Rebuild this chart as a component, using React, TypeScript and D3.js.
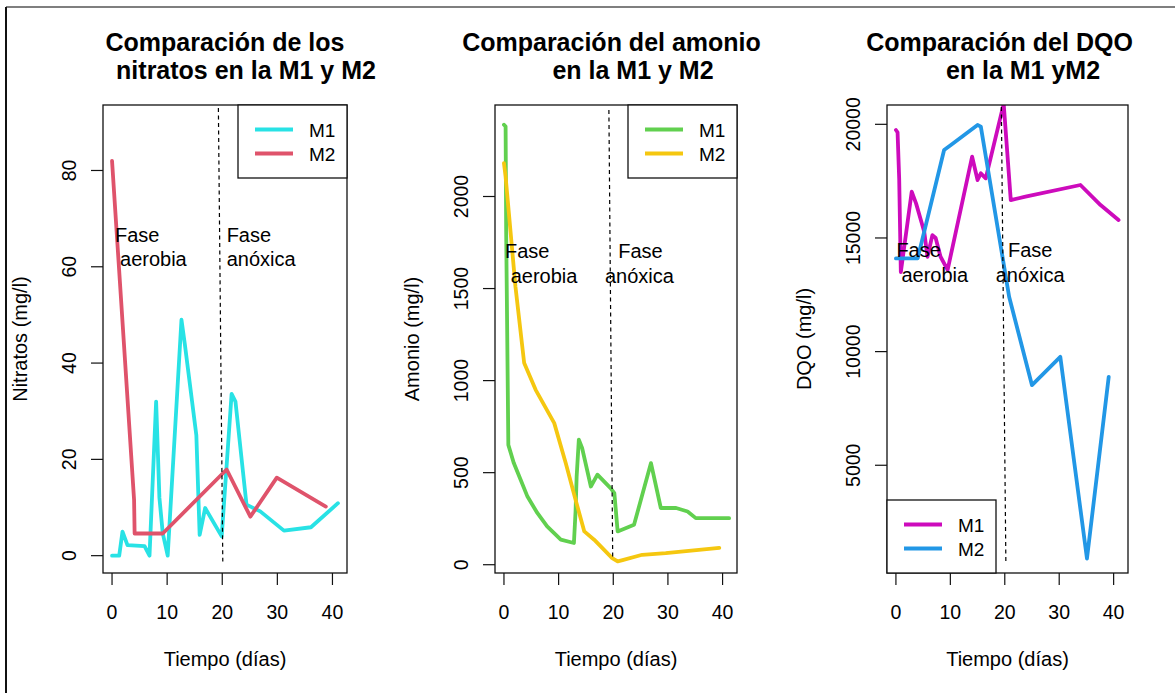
import React from 'react';
import * as d3 from 'd3';

// ---- data (días, mg/l) ----
const dayTicks = [0, 10, 20, 30, 40];

const nitM1Days = [0, 1.3, 1.9, 2.8, 5.9, 6.8, 8.0, 8.6, 9.2, 10.1, 12.6, 13.2, 15.3, 15.9, 16.9, 19.9, 21.7, 22.4, 24.4, 26.9, 31.2, 36.1, 41];
const nitM1 = [0, 0, 5, 2.2, 2, 0, 32, 12, 4.7, 0, 49, 44, 25, 4.3, 9.9, 4, 33.6, 32, 10.6, 9.2, 5.2, 5.9, 10.9];
const nitM2Days = [0, 4, 4.1, 9.2, 20.8, 25.1, 29.9, 38.8];
const nitM2 = [82, 11.6, 4.6, 4.6, 17.9, 8.1, 16.2, 10.2];
const nitTicks = [0, 20, 40, 60, 80];

const amoM1Days = [0, 0.3, 0.4, 0.6, 0.8, 1.8, 3.05, 4.3, 6.1, 7.9, 10.4, 12.8, 13.1, 13.3, 13.7, 14.3, 15.9, 17.1, 19.5, 20.2, 20.8, 23.8, 26.9, 28.7, 31.5, 33.6, 35.1, 41.2];
const amoM1 = [2390, 2380, 1820, 1240, 651, 552, 461, 370, 281, 208, 136, 118, 290, 480, 679, 634, 425, 489, 416, 389, 181, 217, 552, 308, 308, 289, 253, 253];
const amoM2Days = [0, 0.3, 0.9, 2.1, 3.7, 5.8, 9.2, 11.3, 13.1, 14.7, 16.5, 19.8, 20.8, 21.7, 25.3, 29.6, 39.4];
const amoM2 = [2181, 2108, 1909, 1511, 1095, 950, 769, 552, 353, 181, 136, 36, 18, 25, 54, 63, 91];
const amoTicks = [0, 500, 1000, 1500, 2000];

const dqoM1Days = [0, 0.3, 0.6, 0.9, 2.9, 3.7, 5.2, 5.8, 6.7, 7.3, 8.2, 9.5, 14.0, 15.0, 15.6, 16.5, 19.8, 21.1, 23.8, 33.9, 37.6, 40.9];
const dqoM1 = [19750, 19650, 17600, 13500, 17035, 16523, 15274, 14173, 15128, 15000, 14173, 13600, 18575, 17549, 17844, 17624, 20900, 16669, 16815, 17330, 16449, 15788];
const dqoM2Days = [0, 4.0, 8.85, 10.1, 15.0, 15.6, 20.8, 25.0, 30.2, 35.1, 39.1];
const dqoM2 = [14100, 14100, 18870, 19090, 19971, 19900, 12412, 8524, 9770, 894, 8890];
const dqoTicks = [5000, 10000, 15000, 20000];

const FONT = '"Liberation Sans", Arial, Helvetica, sans-serif';
const TOP = 105;
const BOTTOM = 573;

interface Series {
  days: number[];
  values: number[];
  color: string;
  label: string;
}

interface Note {
  text: string;
  x: number;
  y: number;
}

interface PanelProps {
  id: string;
  left: number;
  right: number;
  yDomain: [number, number];
  yTicks: number[];
  yLabel: string;
  title: [string, string];
  titleShift: [number, number];
  series: Series[];
  legendPos: 'topright' | 'bottomleft';
  divider: [number, number, number, number];
  notes: Note[];
}

const Panel: React.FC<PanelProps> = ({
  id, left, right, yDomain, yTicks, yLabel, title, titleShift, series, legendPos, divider, notes
}) => {
  const x = d3.scaleLinear().domain([-1.64, 42.64]).range([left, right]);
  const y = d3.scaleLinear().domain(yDomain).range([BOTTOM, TOP]);
  const cx = (left + right) / 2;
  const cy = (TOP + BOTTOM) / 2;

  const line = (s: Series) =>
    d3.line<number>()
      .x((_, i) => x(s.days[i]))
      .y(v => y(v))(s.values) || '';

  // legend box, like R's legend()
  const lw = 109;
  const lh = 73;
  const lx = legendPos === 'topright' ? right - lw : left;
  const ly = legendPos === 'topright' ? TOP : BOTTOM - lh;

  return (
    <g>
      <defs>
        <clipPath id={`clip-${id}`}>
          <rect x={left} y={TOP} width={right - left} height={BOTTOM - TOP} />
        </clipPath>
      </defs>

      {/* title */}
      <text x={cx + titleShift[0]} y={51} textAnchor="middle" fontSize={25} fontWeight="bold" fill="#000">
        {title[0]}
      </text>
      <text x={cx + titleShift[1]} y={79} textAnchor="middle" fontSize={25} fontWeight="bold" fill="#000">
        {title[1]}
      </text>

      {/* series */}
      <g clipPath={`url(#clip-${id})`}>
        {series.map(s => (
          <path key={s.label} d={line(s)} fill="none" stroke={s.color} strokeWidth={3.8}
            strokeLinejoin="round" strokeLinecap="round" />
        ))}
      </g>

      {/* phase divider */}
      <line x1={x(divider[0])} y1={y(divider[1])} x2={x(divider[2])} y2={y(divider[3])}
        stroke="#000" strokeWidth={1.2} strokeDasharray="4,3.5" />

      {notes.map((n, i) => (
        <text key={i} x={x(n.x)} y={y(n.y)} fontSize={20} fill="#000">{n.text}</text>
      ))}

      {/* box */}
      <rect x={left} y={TOP} width={right - left} height={BOTTOM - TOP} fill="none" stroke="#111" strokeWidth={1.3} />

      {/* x axis */}
      {dayTicks.map(t => (
        <g key={t}>
          <line x1={x(t)} x2={x(t)} y1={BOTTOM} y2={BOTTOM + 12} stroke="#111" strokeWidth={1.2} />
          <text x={x(t)} y={618.5} textAnchor="middle" fontSize={19.5} fill="#000">{t}</text>
        </g>
      ))}
      <text x={cx} y={666} textAnchor="middle" fontSize={20} fill="#000">Tiempo (días)</text>

      {/* y axis */}
      {yTicks.map(t => (
        <g key={t}>
          <line x1={left - 12} x2={left} y1={y(t)} y2={y(t)} stroke="#111" strokeWidth={1.2} />
          <text transform={`translate(${left - 27},${y(t)}) rotate(-90)`} textAnchor="middle" fontSize={19.5} fill="#000">
            {t}
          </text>
        </g>
      ))}
      <text transform={`translate(${left - 76},${cy}) rotate(-90)`} textAnchor="middle" fontSize={20} fill="#000">
        {yLabel}
      </text>

      {/* legend */}
      <rect x={lx} y={ly} width={lw} height={lh} fill="#fff" stroke="#111" strokeWidth={1.3} />
      {series.map((s, i) => (
        <g key={s.label}>
          <line x1={lx + 17} x2={lx + 55} y1={ly + 24.5 + i * 24} y2={ly + 24.5 + i * 24}
            stroke={s.color} strokeWidth={3.8} />
          <text x={lx + 71} y={ly + 31.5 + i * 24} fontSize={19} fill="#000">{s.label}</text>
        </g>
      ))}
    </g>
  );
};

const App: React.FC = () => {
  return (
    <svg width={1175} height={693} style={{ position: 'absolute', left: 0, top: 0, background: '#fff' }}
      fontFamily={FONT}>
      <rect x={0} y={0} width={1175} height={693} fill="#fff" />
      <line x1={6} y1={7} x2={1175} y2={7} stroke="#555" strokeWidth={1.5} />
      <line x1={6} y1={7} x2={6} y2={693} stroke="#111" strokeWidth={2} />

      <Panel
        id="nit"
        left={103}
        right={347}
        yDomain={[-3.6, 93.6]}
        yTicks={nitTicks}
        yLabel="Nitratos (mg/l)"
        title={['Comparación de los', 'nitratos en la M1 y M2']}
        titleShift={[0, 21]}
        series={[
          { days: nitM1Days, values: nitM1, color: '#28E2E5', label: 'M1' },
          { days: nitM2Days, values: nitM2, color: '#DF536B', label: 'M2' }
        ]}
        legendPos="topright"
        divider={[19.3, 93, 20.1, -1.2]}
        notes={[
          { text: 'Fase', x: 0.54, y: 65.2 },
          { text: 'aerobia', x: 1.45, y: 60.2 },
          { text: 'Fase', x: 20.8, y: 65.2 },
          { text: 'anóxica', x: 20.8, y: 60.2 }
        ]}
      />

      <Panel
        id="amo"
        left={495}
        right={737}
        yDomain={[-45, 2497]}
        yTicks={amoTicks}
        yLabel="Amonio (mg/l)"
        title={['Comparación del amonio', 'en la M1 y M2']}
        titleShift={[-4.5, 17]}
        series={[
          { days: amoM1Days, values: amoM1, color: '#61D04F', label: 'M1' },
          { days: amoM2Days, values: amoM2, color: '#F5C710', label: 'M2' }
        ]}
        legendPos="topright"
        divider={[19.2, 2470, 19.9, 25]}
        notes={[
          { text: 'Fase', x: 0.19, y: 1664 },
          { text: 'aerobia', x: 1.23, y: 1529 },
          { text: 'Fase', x: 20.92, y: 1664 },
          { text: 'anóxica', x: 18.49, y: 1529 }
        ]}
      />

      <Panel
        id="dqo"
        left={887}
        right={1128}
        yDomain={[260, 20850]}
        yTicks={dqoTicks}
        yLabel="DQO (mg/l)"
        title={['Comparación del DQO', 'en la M1 yM2']}
        titleShift={[-8, 15.5]}
        series={[
          { days: dqoM1Days, values: dqoM1, color: '#CD0BBC', label: 'M1' },
          { days: dqoM2Days, values: dqoM2, color: '#2297E6', label: 'M2' }
        ]}
        legendPos="bottomleft"
        divider={[19.37, 20763, 20.2, 744]}
        notes={[
          { text: 'Fase', x: 0.09, y: 14172 },
          { text: 'aerobia', x: 1.01, y: 13071 },
          { text: 'Fase', x: 20.6, y: 14172 },
          { text: 'anóxica', x: 18.34, y: 13071 }
        ]}
      />
    </svg>
  );
};

export default App;
